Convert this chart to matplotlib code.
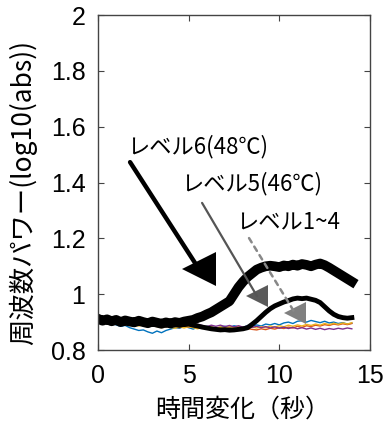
import numpy as np
import matplotlib
matplotlib.use('Agg')
import matplotlib.pyplot as plt

plt.rcParams['font.family'] = ['Noto Sans CJK JP', 'DejaVu Sans']

# all traces sampled every 0.25 s
t = np.arange(0, 14.01, 0.25)
level6 = [0.912, 0.905, 0.910, 0.903, 0.908, 0.900, 0.906, 0.902, 0.899, 0.905,
          0.900, 0.896, 0.902, 0.898, 0.894, 0.899, 0.895, 0.900, 0.897, 0.902,
          0.905, 0.908, 0.915, 0.920, 0.928, 0.935, 0.945, 0.955, 0.965, 0.975,
          1.000, 1.025, 1.045, 1.062, 1.075, 1.088, 1.095, 1.100, 1.102, 1.100,
          1.097, 1.103, 1.100, 1.106, 1.102, 1.108, 1.105, 1.100, 1.106, 1.110,
          1.104, 1.095, 1.085, 1.075, 1.065, 1.055, 1.045]
level5 = [0.908, 0.904, 0.907, 0.902, 0.905, 0.900, 0.904, 0.899, 0.902, 0.898,
          0.901, 0.897, 0.900, 0.895, 0.898, 0.894, 0.897, 0.893, 0.895, 0.891,
          0.893, 0.889, 0.886, 0.882, 0.879, 0.876, 0.874, 0.872, 0.873, 0.871,
          0.872, 0.874, 0.876, 0.880, 0.892, 0.905, 0.920, 0.935, 0.948, 0.958,
          0.965, 0.972, 0.977, 0.983, 0.986, 0.984, 0.986, 0.982, 0.978, 0.970,
          0.955, 0.940, 0.928, 0.920, 0.916, 0.914, 0.916]
level1 = [0.905, 0.900, 0.895, 0.898, 0.890, 0.885, 0.888, 0.880, 0.875, 0.870,
          0.872, 0.865, 0.860, 0.868, 0.862, 0.870, 0.875, 0.880, 0.878, 0.885,
          0.880, 0.875, 0.882, 0.878, 0.885, 0.880, 0.876, 0.882, 0.885, 0.880,
          0.887, 0.883, 0.880, 0.888, 0.885, 0.890, 0.886, 0.893, 0.890, 0.895,
          0.890, 0.897, 0.900, 0.895, 0.903, 0.905, 0.900, 0.906, 0.902, 0.898,
          0.903, 0.897, 0.900, 0.895, 0.898, 0.893, 0.896]
level2 = [0.900, 0.898, 0.902, 0.895, 0.898, 0.893, 0.897, 0.892, 0.895, 0.890,
          0.893, 0.888, 0.885, 0.890, 0.886, 0.883, 0.888, 0.884, 0.880, 0.886,
          0.882, 0.885, 0.880, 0.884, 0.878, 0.882, 0.877, 0.880, 0.876, 0.879,
          0.875, 0.878, 0.873, 0.877, 0.874, 0.872, 0.876, 0.873, 0.878, 0.875,
          0.880, 0.877, 0.882, 0.879, 0.885, 0.881, 0.887, 0.884, 0.889, 0.886,
          0.891, 0.888, 0.893, 0.890, 0.894, 0.891, 0.895]
level3 = [0.895, 0.900, 0.896, 0.892, 0.897, 0.893, 0.890, 0.894, 0.889, 0.886,
          0.890, 0.885, 0.888, 0.884, 0.880, 0.885, 0.881, 0.878, 0.883, 0.879,
          0.884, 0.880, 0.876, 0.881, 0.877, 0.882, 0.878, 0.883, 0.879, 0.884,
          0.880, 0.885, 0.881, 0.878, 0.883, 0.879, 0.884, 0.880, 0.886, 0.882,
          0.887, 0.883, 0.889, 0.885, 0.890, 0.886, 0.892, 0.888, 0.893, 0.889,
          0.895, 0.891, 0.896, 0.892, 0.897, 0.893, 0.898]
level4 = [0.905, 0.910, 0.906, 0.902, 0.907, 0.910, 0.905, 0.908, 0.903, 0.899,
          0.904, 0.900, 0.896, 0.901, 0.897, 0.893, 0.898, 0.894, 0.890, 0.895,
          0.891, 0.887, 0.892, 0.888, 0.884, 0.889, 0.885, 0.889, 0.884, 0.888,
          0.883, 0.887, 0.882, 0.886, 0.881, 0.885, 0.880, 0.884, 0.879, 0.883,
          0.878, 0.882, 0.877, 0.881, 0.876, 0.880, 0.875, 0.879, 0.874, 0.878,
          0.873, 0.877, 0.874, 0.878, 0.875, 0.879, 0.876]

thin_colors = ['#0072BD', '#D95319', '#EDB120', '#7E2F8E']

xticks = [0, 5, 10, 15]
yticks = [0.8, 1.0, 1.2, 1.4, 1.6, 1.8, 2.0]
ytick_labels = ['0.8', '1', '1.2', '1.4', '1.6', '1.8', '2']

fig = plt.figure(figsize=(3.85, 4.3), dpi=100)
ax = fig.add_axes([0.2545, 0.186, 0.7065, 0.779])

for vals, c in zip([level1, level2, level3, level4], thin_colors):
    ax.plot(t, vals, color=c, lw=1.0)
ax.plot(t, level5, color='black', lw=3.5, solid_joinstyle='round')
ax.plot(t, level6, color='black', lw=7, solid_joinstyle='round')

tick_font = dict(family=['Liberation Sans Narrow', 'Liberation Sans', 'DejaVu Sans'], size=18)
ax.set_xlim(0, 15)
ax.set_ylim(0.8, 2.0)
ax.set_xticks(xticks)
ax.set_xticklabels([str(v) for v in xticks], fontdict=tick_font)
ax.set_yticks(yticks)
ax.set_yticklabels(ytick_labels, fontdict=tick_font)
ax.tick_params(direction='in', top=True, right=True, length=4, color='#444')
ax.tick_params(axis='x', pad=10)
ax.tick_params(axis='y', pad=9)
for s in ax.spines.values():
    s.set_color('#444')
    s.set_linewidth(1.0)

ax.set_xlabel('時間変化（秒）', fontsize=18)
ax.xaxis.set_label_coords(0.53, -0.179)
ax.xaxis.label.set_va('center')
ax.set_ylabel('周波数パワー(log10(abs))', fontsize=19)
ax.yaxis.set_label_coords(-0.276, 0.47)
ax.yaxis.label.set_va('center')

# annotations: shaft + triangle head
ax.text(1.6, 1.527, 'レベル6(48℃)', fontsize=16, va='center', ha='left')
ax.annotate('', xy=(5.55, 1.092), xytext=(1.77, 1.473),
            arrowprops=dict(arrowstyle='-', color='black', lw=3.2,
                            shrinkA=0, shrinkB=0))
ax.plot([5.55], [1.092], marker='<', ms=24, color='black', mew=0)

ax.text(4.6, 1.398, 'レベル5(46℃)', fontsize=16, va='center', ha='left')
ax.annotate('', xy=(8.77, 0.993), xytext=(5.74, 1.327),
            arrowprops=dict(arrowstyle='-', color='#555555', lw=1.6,
                            shrinkA=0, shrinkB=0))
ax.plot([8.77], [0.993], marker='<', ms=16, color='#5a5a5a', mew=0)

ax.text(7.6, 1.258, 'レベル1~4', fontsize=16, va='center', ha='left')
ax.annotate('', xy=(10.86, 0.933), xytext=(8.33, 1.201),
            arrowprops=dict(arrowstyle='-', color='#888888', lw=1.8,
                            ls=(0, (2, 2)), shrinkA=0, shrinkB=0))
ax.plot([10.86], [0.933], marker='<', ms=16, color='#808080', mew=0)

fig.savefig('out.png', dpi=100)
